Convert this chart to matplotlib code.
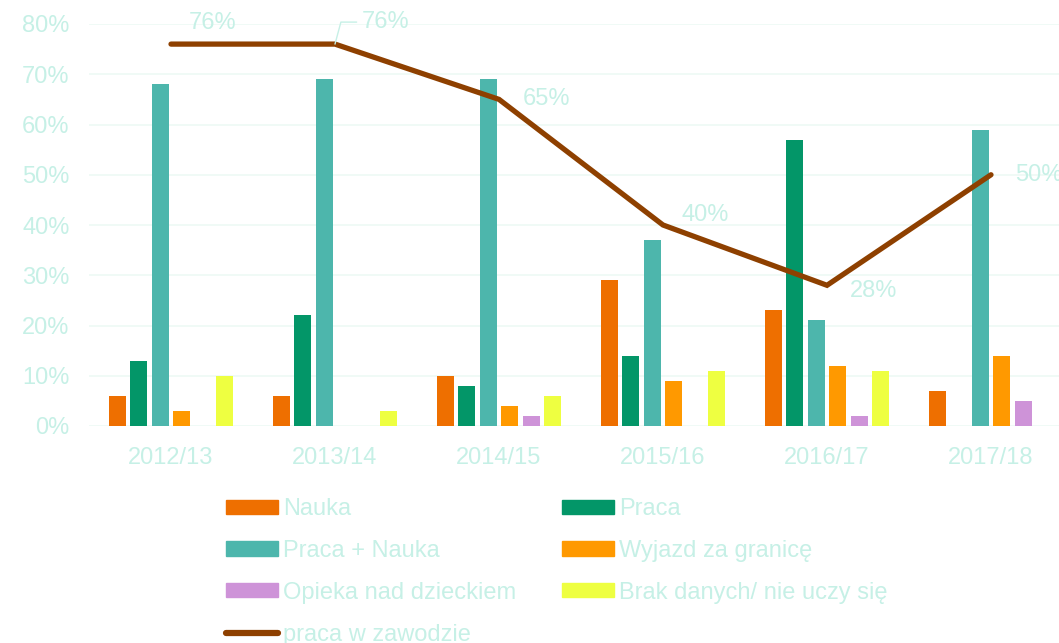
import matplotlib
matplotlib.use("Agg")
import matplotlib.pyplot as plt
import numpy as np
from matplotlib.lines import Line2D
from matplotlib.patches import Patch

years = ["2012/13", "2013/14", "2014/15", "2015/16", "2016/17", "2017/18"]
nauka = [6, 6, 10, 29, 23, 7]
praca = [13, 22, 8, 14, 57, 0]
praca_nauka = [68, 69, 69, 37, 21, 59]
wyjazd = [3, 0, 4, 9, 12, 14]
opieka = [0, 0, 2, 0, 2, 5]
brak = [10, 3, 6, 11, 11, 0]
praca_w_zawodzie = [76, 76, 65, 40, 28, 50]

series_names = ["Nauka", "Praca", "Praca + Nauka", "Wyjazd za granicę",
                "Opieka nad dzieckiem", "Brak danych/ nie uczy się"]
series_vals = [nauka, praca, praca_nauka, wyjazd, opieka, brak]
colors = ["#EE6F00", "#039668", "#4DB6AC", "#FF9900", "#CE93D8", "#EEFF41"]
line_name = "praca w zawodzie"
line_color = "#8E4000"
txt = "#C6F0E6"

plt.rcParams['font.family'] = ['Liberation Sans', 'DejaVu Sans']

W, H = 1059, 643
fig = plt.figure(figsize=(W / 100, H / 100), dpi=100)
ax = fig.add_axes([89 / W, (H - 426) / H, (1073 - 89) / W, 402 / H])
ax.set_xlim(-0.5, 5.5)
ax.set_ylim(0, 80)

x = np.arange(len(years))
step = 0.131
bw = 0.104
for i, (vals, c) in enumerate(zip(series_vals, colors)):
    ax.bar(x + (i - 2.5) * step, vals, width=bw, color=c, linewidth=0, zorder=2)

ax.plot(x, praca_w_zawodzie, color=line_color, lw=3.8, solid_capstyle='round',
        solid_joinstyle='miter', zorder=3)

# data labels
offsets = [(42, 21), None, (48, 0), (42, 10), (47, -6), (48, 0)]
for i, v in enumerate(praca_w_zawodzie):
    lbl = f"{v}%"
    if offsets[i] is None:
        ax.annotate(lbl, xy=(x[i], v), xytext=(51, 22), textcoords='offset pixels',
                    ha='center', va='center', fontsize=17, color=txt,
                    arrowprops=dict(arrowstyle='-', color=txt, lw=1,
                                    connectionstyle='angle,angleA=0,angleB=75,rad=0',
                                    shrinkA=2, shrinkB=0))
    else:
        dx, dy = offsets[i]
        ax.annotate(lbl, xy=(x[i], v), xytext=(dx, dy), textcoords='offset pixels',
                    ha='center', va='center', fontsize=17, color=txt)

ax.set_yticks(np.arange(0, 81, 10))
ax.set_yticklabels([f"{t}%" for t in range(0, 81, 10)])
ax.set_xticks(x)
ax.set_xticklabels(years)
ax.tick_params(axis='y', length=0, pad=14, labelsize=17, labelcolor=txt)
ax.tick_params(axis='x', length=0, pad=15, labelsize=17, labelcolor=txt)
ax.grid(axis='y', color="#EEF9F5", lw=1.2, zorder=0)
ax.set_axisbelow(True)
for s in ax.spines.values():
    s.set_visible(False)

handles = [Patch(color=colors[i]) for i in range(6)]
lh = Line2D([], [], color=line_color, lw=4.5, solid_capstyle='round')
order_h = [handles[0], handles[2], handles[4], lh, handles[1], handles[3], handles[5]]
order_l = [series_names[0], series_names[2], series_names[4], line_name,
           series_names[1], series_names[3], series_names[5]]
leg = fig.legend(order_h, order_l, ncol=2, loc='upper left',
                 bbox_to_anchor=(226 / W, 1 - 498 / H), frameon=False,
                 prop={'size': 17},
                 handlelength=2.2, handleheight=0.54, handletextpad=0.22,
                 labelspacing=0.84, columnspacing=1.95, borderaxespad=0, borderpad=0)
for t in leg.get_texts():
    t.set_color(txt)

fig.savefig("out.png", dpi=100)
